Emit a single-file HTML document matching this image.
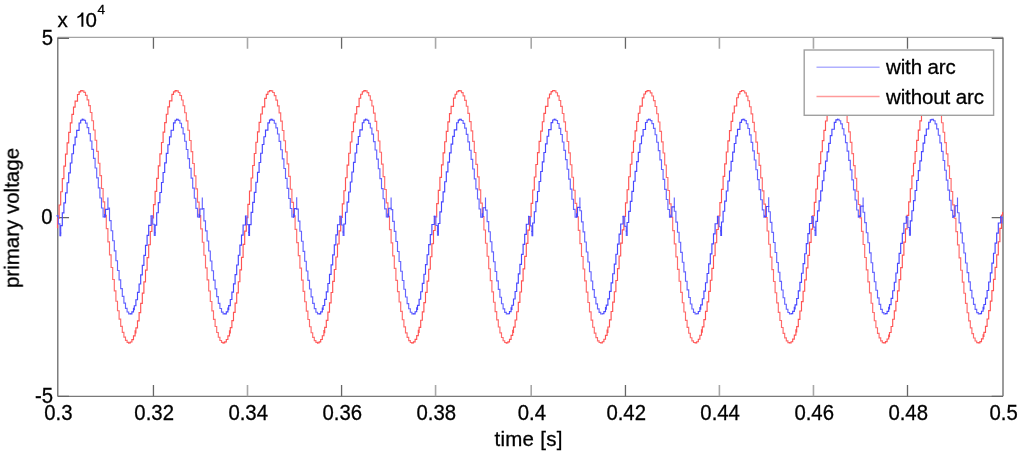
<!DOCTYPE html>
<html><head><meta charset="utf-8"><style>
html,body{margin:0;padding:0;background:#fff;width:1024px;height:458px;overflow:hidden}
svg{display:block}
text{font-family:"Liberation Sans",sans-serif;font-size:20.5px;fill:#000;stroke:#000;stroke-width:0.3px}
</style></head><body>
<svg width="1024" height="458" viewBox="0 0 1024 458">
<defs><filter id="b" x="-5%" y="-5%" width="110%" height="110%"><feGaussianBlur stdDeviation="0.4"/></filter></defs>
<rect width="1024" height="458" fill="#fff"/>
<g filter="url(#b)">
<g fill="none" stroke-width="1.3">
<path d="M57.75,37.4 H1003.0" stroke="#a4a4a4"/>
<path d="M57.75,396.3 H1003.0" stroke="#7a7a7a"/>
<path d="M57.75,37.4 V396.3" stroke="#7e7e7e" stroke-width="1.5"/>
<path d="M1003.0,37.4 V396.3" stroke="#8a8a8a" stroke-width="1.7"/>
<path d="M153.45,396.30 V385.00 M153.45,37.40 V48.70 M341.57,396.30 V385.00 M341.57,37.40 V48.70 M625.46,396.30 V385.00 M625.46,37.40 V48.70 M907.50,396.30 V385.00 M907.50,37.40 V48.70 M57.75,38.40 H69.05 M1003.00,38.40 H991.70 M57.75,217.60 H69.05 M1003.00,217.60 H991.70 M57.75,396.30 H69.05 M1003.00,396.30 H991.70" stroke="#666"/>
<path d="M247.50,396.30 V385.00 M247.50,37.40 V48.70 M435.57,396.30 V385.00 M435.57,37.40 V48.70 M531.20,396.30 V385.00 M531.20,37.40 V48.70 M719.40,396.30 V385.00 M719.40,37.40 V48.70 M813.46,396.30 V385.00 M813.46,37.40 V48.70" stroke="#a8a8a8" stroke-width="1.6"/>
</g>
<g fill="none" stroke-linecap="square">
<path d="M82.3,90.6 82.3,90.5 82.3,90.8 83.9,90.8 83.9,92.4 85.5,92.4 85.5,95.4 87.1,95.4 87.1,99.8 88.7,99.8 88.7,105.6 90.3,105.6 90.3,112.5 91.9,112.5 91.9,120.7 93.5,120.7 93.5,130.0 95.1,130.0 95.1,140.2 96.7,140.2 96.7,151.3 98.3,151.3 98.3,163.2 99.9,163.2 99.9,175.6 101.5,175.6 101.5,188.5 103.1,188.5 103.1,201.8 104.7,201.8 104.7,215.2 106.3,215.2 106.3,228.6 107.9,228.6 107.9,241.9 109.5,241.9 109.5,254.9 111.1,254.9 111.1,267.5 112.7,267.5 112.7,279.5 114.3,279.5 114.3,290.8 115.9,290.8 115.9,301.2 117.5,301.2 117.5,310.7 119.1,310.7 119.1,319.1 120.7,319.1 120.7,326.4 122.3,326.4 122.3,332.4 123.9,332.4 123.9,337.1 125.5,337.1 125.5,340.4 127.1,340.4 127.1,342.4 128.7,342.4 128.7,342.9 128.7,342.9 M176.7,90.6 176.7,90.5 176.7,90.8 178.3,90.8 178.3,92.5 179.9,92.5 179.9,95.5 181.5,95.5 181.5,100.0 183.1,100.0 183.1,105.7 184.7,105.7 184.7,112.7 186.3,112.7 186.3,120.9 187.9,120.9 187.9,130.2 189.5,130.2 189.5,140.5 191.1,140.5 191.1,151.6 192.7,151.6 192.7,163.5 194.3,163.5 194.3,175.9 195.9,175.9 195.9,188.9 197.5,188.9 197.5,202.1 199.1,202.1 199.1,215.5 200.7,215.5 200.7,228.9 202.3,228.9 202.3,242.2 203.9,242.2 203.9,255.2 205.5,255.2 205.5,267.8 207.1,267.8 207.1,279.8 208.7,279.8 208.7,291.0 210.3,291.0 210.3,301.5 211.9,301.5 211.9,310.9 213.5,310.9 213.5,319.3 215.1,319.3 215.1,326.5 216.7,326.5 216.7,332.5 218.3,332.5 218.3,337.2 219.9,337.2 219.9,340.5 221.5,340.5 221.5,342.4 223.1,342.4 223.1,342.9 223.1,342.9 M271.1,90.6 271.1,90.5 271.1,90.8 272.7,90.8 272.7,92.5 274.3,92.5 274.3,95.6 275.9,95.6 275.9,100.1 277.5,100.1 277.5,105.9 279.1,105.9 279.1,112.9 280.7,112.9 280.7,121.1 282.3,121.1 282.3,130.5 283.9,130.5 283.9,140.7 285.5,140.7 285.5,151.9 287.1,151.9 287.1,163.8 288.7,163.8 288.7,176.3 290.3,176.3 290.3,189.2 291.9,189.2 291.9,202.4 293.5,202.4 293.5,215.9 295.1,215.9 295.1,229.3 296.7,229.3 296.7,242.6 298.3,242.6 298.3,255.6 299.9,255.6 299.9,268.1 301.5,268.1 301.5,280.1 303.1,280.1 303.1,291.3 304.7,291.3 304.7,301.7 306.3,301.7 306.3,311.1 307.9,311.1 307.9,319.5 309.5,319.5 309.5,326.7 311.1,326.7 311.1,332.7 312.7,332.7 312.7,337.3 314.3,337.3 314.3,340.6 315.9,340.6 315.9,342.4 317.5,342.4 317.5,342.9 317.5,342.9 M365.5,90.6 365.5,90.5 365.5,90.9 367.1,90.9 367.1,92.6 368.7,92.6 368.7,95.7 370.3,95.7 370.3,100.2 371.9,100.2 371.9,106.0 373.5,106.0 373.5,113.1 375.1,113.1 375.1,121.4 376.7,121.4 376.7,130.7 378.3,130.7 378.3,141.0 379.9,141.0 379.9,152.2 381.5,152.2 381.5,164.1 383.1,164.1 383.1,176.6 384.7,176.6 384.7,189.5 386.3,189.5 386.3,202.8 387.9,202.8 387.9,216.2 389.5,216.2 389.5,229.6 391.1,229.6 391.1,242.9 392.7,242.9 392.7,255.9 394.3,255.9 394.3,268.4 395.9,268.4 395.9,280.4 397.5,280.4 397.5,291.6 399.1,291.6 399.1,302.0 400.7,302.0 400.7,311.4 402.3,311.4 402.3,319.7 403.9,319.7 403.9,326.9 405.5,326.9 405.5,332.8 407.1,332.8 407.1,337.4 408.7,337.4 408.7,340.6 410.3,340.6 410.3,342.5 411.9,342.5 411.9,342.9 411.9,342.9 M459.9,90.6 459.9,90.5 459.9,90.9 461.5,90.9 461.5,92.6 463.1,92.6 463.1,95.8 464.7,95.8 464.7,100.3 466.3,100.3 466.3,106.2 467.9,106.2 467.9,113.3 469.5,113.3 469.5,121.6 471.1,121.6 471.1,130.9 472.7,130.9 472.7,141.3 474.3,141.3 474.3,152.5 475.9,152.5 475.9,164.4 477.5,164.4 477.5,176.9 479.1,176.9 479.1,189.8 480.7,189.8 480.7,203.1 482.3,203.1 482.3,216.5 483.9,216.5 483.9,230.0 485.5,230.0 485.5,243.2 487.1,243.2 487.1,256.2 488.7,256.2 488.7,268.7 490.3,268.7 490.3,280.6 491.9,280.6 491.9,291.9 493.5,291.9 493.5,302.2 495.1,302.2 495.1,311.6 496.7,311.6 496.7,319.9 498.3,319.9 498.3,327.0 499.9,327.0 499.9,332.9 501.5,332.9 501.5,337.5 503.1,337.5 503.1,340.7 504.7,340.7 504.7,342.5 506.3,342.5 506.3,342.9 506.3,342.9 M554.3,90.5 554.3,90.5 554.3,90.9 555.9,90.9 555.9,92.7 557.5,92.7 557.5,95.9 559.1,95.9 559.1,100.5 560.7,100.5 560.7,106.4 562.3,106.4 562.3,113.5 563.9,113.5 563.9,121.8 565.5,121.8 565.5,131.2 567.1,131.2 567.1,141.5 568.7,141.5 568.7,152.8 570.3,152.8 570.3,164.7 571.9,164.7 571.9,177.2 573.5,177.2 573.5,190.2 575.1,190.2 575.1,203.4 576.7,203.4 576.7,216.9 578.3,216.9 578.3,230.3 579.9,230.3 579.9,243.6 581.5,243.6 581.5,256.5 583.1,256.5 583.1,269.0 584.7,269.0 584.7,280.9 586.3,280.9 586.3,292.1 587.9,292.1 587.9,302.5 589.5,302.5 589.5,311.8 591.1,311.8 591.1,320.1 592.7,320.1 592.7,327.2 594.3,327.2 594.3,333.1 595.9,333.1 595.9,337.6 597.5,337.6 597.5,340.8 599.1,340.8 599.1,342.5 600.7,342.5 600.7,342.9 600.7,342.8 M648.7,90.5 648.7,90.5 648.7,90.9 650.3,90.9 650.3,92.8 651.9,92.8 651.9,96.0 653.5,96.0 653.5,100.6 655.1,100.6 655.1,106.5 656.7,106.5 656.7,113.7 658.3,113.7 658.3,122.0 659.9,122.0 659.9,131.4 661.5,131.4 661.5,141.8 663.1,141.8 663.1,153.0 664.7,153.0 664.7,165.0 666.3,165.0 666.3,177.5 667.9,177.5 667.9,190.5 669.5,190.5 669.5,203.8 671.1,203.8 671.1,217.2 672.7,217.2 672.7,230.6 674.3,230.6 674.3,243.9 675.9,243.9 675.9,256.8 677.5,256.8 677.5,269.3 679.1,269.3 679.1,281.2 680.7,281.2 680.7,292.4 682.3,292.4 682.3,302.7 683.9,302.7 683.9,312.0 685.5,312.0 685.5,320.3 687.1,320.3 687.1,327.4 688.7,327.4 688.7,333.2 690.3,333.2 690.3,337.7 691.9,337.7 691.9,340.8 693.5,340.8 693.5,342.5 695.1,342.5 695.1,342.9 695.1,342.8 M743.1,90.5 743.1,90.5 743.1,91.0 744.7,91.0 744.7,92.8 746.3,92.8 746.3,96.1 747.9,96.1 747.9,100.7 749.5,100.7 749.5,106.7 751.1,106.7 751.1,113.9 752.7,113.9 752.7,122.3 754.3,122.3 754.3,131.7 755.9,131.7 755.9,142.1 757.5,142.1 757.5,153.3 759.1,153.3 759.1,165.3 760.7,165.3 760.7,177.8 762.3,177.8 762.3,190.8 763.9,190.8 763.9,204.1 765.5,204.1 765.5,217.5 767.1,217.5 767.1,231.0 768.7,231.0 768.7,244.2 770.3,244.2 770.3,257.1 771.9,257.1 771.9,269.6 773.5,269.6 773.5,281.5 775.1,281.5 775.1,292.7 776.7,292.7 776.7,302.9 778.3,302.9 778.3,312.3 779.9,312.3 779.9,320.5 781.5,320.5 781.5,327.5 783.1,327.5 783.1,333.3 784.7,333.3 784.7,337.8 786.3,337.8 786.3,340.9 787.9,340.9 787.9,342.6 789.5,342.6 789.5,342.9 789.5,342.8 M837.5,90.5 837.5,90.5 837.5,91.0 839.1,91.0 839.1,92.9 840.7,92.9 840.7,96.2 842.3,96.2 842.3,100.9 843.9,100.9 843.9,106.9 845.5,106.9 845.5,114.1 847.1,114.1 847.1,122.5 848.7,122.5 848.7,131.9 850.3,131.9 850.3,142.4 851.9,142.4 851.9,153.6 853.5,153.6 853.5,165.6 855.1,165.6 855.1,178.2 856.7,178.2 856.7,191.2 858.3,191.2 858.3,204.5 859.9,204.5 859.9,217.9 861.5,217.9 861.5,231.3 863.1,231.3 863.1,244.5 864.7,244.5 864.7,257.5 866.3,257.5 866.3,269.9 867.9,269.9 867.9,281.8 869.5,281.8 869.5,292.9 871.1,292.9 871.1,303.2 872.7,303.2 872.7,312.5 874.3,312.5 874.3,320.7 875.9,320.7 875.9,327.7 877.5,327.7 877.5,333.4 879.1,333.4 879.1,337.9 880.7,337.9 880.7,340.9 882.3,340.9 882.3,342.6 883.9,342.6 883.9,342.9 883.9,342.8 M931.9,90.5 931.9,90.5 931.9,91.0 933.5,91.0 933.5,93.0 935.1,93.0 935.1,96.3 936.7,96.3 936.7,101.0 938.3,101.0 938.3,107.0 939.9,107.0 939.9,114.3 941.5,114.3 941.5,122.7 943.1,122.7 943.1,132.2 944.7,132.2 944.7,142.6 946.3,142.6 946.3,153.9 947.9,153.9 947.9,165.9 949.5,165.9 949.5,178.5 951.1,178.5 951.1,191.5 952.7,191.5 952.7,204.8 954.3,204.8 954.3,218.2 955.9,218.2 955.9,231.6 957.5,231.6 957.5,244.9 959.1,244.9 959.1,257.8 960.7,257.8 960.7,270.2 962.3,270.2 962.3,282.1 963.9,282.1 963.9,293.2 965.5,293.2 965.5,303.4 967.1,303.4 967.1,312.7 968.7,312.7 968.7,320.9 970.3,320.9 970.3,327.8 971.9,327.8 971.9,333.6 973.5,333.6 973.5,338.0 975.1,338.0 975.1,341.0 976.7,341.0 976.7,342.6 978.3,342.6 978.3,342.9 978.3,342.8" stroke="#ff6a6a" stroke-width="1.15"/>
<path d="M57.5,227.6 57.5,218.4 59.1,218.4 59.1,205.0 60.7,205.0 60.7,191.7 62.3,191.7 62.3,178.6 63.9,178.6 63.9,166.1 65.5,166.1 65.5,154.1 67.1,154.1 67.1,142.8 68.7,142.8 68.7,132.3 70.3,132.3 70.3,122.8 71.9,122.8 71.9,114.4 73.5,114.4 73.5,107.1 75.1,107.1 75.1,101.1 77.5,101.1 77.5,94.5 79.1,94.5 79.1,91.8 80.7,91.8 80.7,90.6 82.3,90.6 M128.7,342.9 130.3,342.9 130.3,342.0 131.9,342.0 131.9,339.6 133.5,339.6 133.5,335.9 135.1,335.9 135.1,330.8 135.9,330.8 135.9,333.5 135.9,327.8 137.5,327.8 137.5,320.8 139.1,320.8 139.1,312.6 140.7,312.6 140.7,303.3 142.3,303.3 142.3,293.1 143.9,293.1 143.9,281.9 145.5,281.9 145.5,270.1 147.1,270.1 147.1,257.6 148.7,257.6 148.7,244.7 150.3,244.7 150.3,231.5 151.9,231.5 151.9,218.0 153.5,218.0 153.5,204.6 155.1,204.6 155.1,191.3 156.7,191.3 156.7,178.3 158.3,178.3 158.3,165.8 159.9,165.8 159.9,153.8 161.5,153.8 161.5,142.5 163.1,142.5 163.1,132.1 164.7,132.1 164.7,122.6 166.3,122.6 166.3,114.2 167.9,114.2 167.9,106.9 169.5,106.9 169.5,100.9 171.9,100.9 171.9,94.4 173.5,94.4 173.5,91.8 175.1,91.8 175.1,90.6 176.7,90.6 M223.1,342.9 224.7,342.9 224.7,341.9 226.3,341.9 226.3,339.5 227.9,339.5 227.9,335.8 229.5,335.8 229.5,330.7 230.3,330.7 230.3,333.4 230.3,327.6 231.9,327.6 231.9,320.6 233.5,320.6 233.5,312.4 235.1,312.4 235.1,303.1 236.7,303.1 236.7,292.8 238.3,292.8 238.3,281.7 239.9,281.7 239.9,269.8 241.5,269.8 241.5,257.3 243.1,257.3 243.1,244.4 244.7,244.4 244.7,231.1 246.3,231.1 246.3,217.7 247.9,217.7 247.9,204.3 249.5,204.3 249.5,191.0 251.1,191.0 251.1,178.0 252.7,178.0 252.7,165.5 254.3,165.5 254.3,153.5 255.9,153.5 255.9,142.2 257.5,142.2 257.5,131.8 259.1,131.8 259.1,122.4 260.7,122.4 260.7,114.0 262.3,114.0 262.3,106.8 264.7,106.8 264.7,98.3 266.3,98.3 266.3,94.3 267.9,94.3 267.9,91.7 269.5,91.7 269.5,90.6 271.1,90.6 M317.5,342.9 319.1,342.9 319.1,341.9 320.7,341.9 320.7,339.5 322.3,339.5 322.3,335.7 323.9,335.7 323.9,330.5 324.7,330.5 324.7,333.3 324.7,327.4 326.3,327.4 326.3,320.4 327.9,320.4 327.9,312.1 329.5,312.1 329.5,302.8 331.1,302.8 331.1,292.5 332.7,292.5 332.7,281.4 334.3,281.4 334.3,269.5 335.9,269.5 335.9,257.0 337.5,257.0 337.5,244.0 339.1,244.0 339.1,230.8 340.7,230.8 340.7,217.4 342.3,217.4 342.3,203.9 343.9,203.9 343.9,190.7 345.5,190.7 345.5,177.7 347.1,177.7 347.1,165.1 348.7,165.1 348.7,153.2 350.3,153.2 350.3,142.0 351.9,142.0 351.9,131.6 353.5,131.6 353.5,122.1 355.1,122.1 355.1,113.8 356.7,113.8 356.7,106.6 359.1,106.6 359.1,98.2 360.7,98.2 360.7,94.2 362.3,94.2 362.3,91.7 363.9,91.7 363.9,90.6 365.5,90.6 M411.9,342.9 413.5,342.9 413.5,341.8 415.1,341.8 415.1,339.4 416.7,339.4 416.7,335.6 418.3,335.6 418.3,330.4 419.1,330.4 419.1,333.1 419.1,327.3 420.7,327.3 420.7,320.2 422.3,320.2 422.3,311.9 423.9,311.9 423.9,302.6 425.5,302.6 425.5,292.3 427.1,292.3 427.1,281.1 428.7,281.1 428.7,269.2 430.3,269.2 430.3,256.7 431.9,256.7 431.9,243.7 433.5,243.7 433.5,230.5 435.1,230.5 435.1,217.0 436.7,217.0 436.7,203.6 438.3,203.6 438.3,190.3 439.9,190.3 439.9,177.4 441.5,177.4 441.5,164.8 443.1,164.8 443.1,152.9 444.7,152.9 444.7,141.7 446.3,141.7 446.3,131.3 447.9,131.3 447.9,121.9 449.5,121.9 449.5,113.6 451.1,113.6 451.1,106.4 453.5,106.4 453.5,98.1 455.1,98.1 455.1,94.2 456.7,94.2 456.7,91.7 458.3,91.7 458.3,90.6 459.9,90.6 M506.3,342.9 507.9,342.9 507.9,341.8 509.5,341.8 509.5,339.3 511.1,339.3 511.1,335.4 512.7,335.4 512.7,330.2 513.5,330.2 513.5,333.0 513.5,327.1 515.1,327.1 515.1,320.0 516.7,320.0 516.7,311.7 518.3,311.7 518.3,302.3 519.9,302.3 519.9,292.0 521.5,292.0 521.5,280.8 523.1,280.8 523.1,268.9 524.7,268.9 524.7,256.4 526.3,256.4 526.3,243.4 527.9,243.4 527.9,230.1 529.5,230.1 529.5,216.7 531.1,216.7 531.1,203.3 532.7,203.3 532.7,190.0 534.3,190.0 534.3,177.0 535.9,177.0 535.9,164.5 537.5,164.5 537.5,152.6 539.1,152.6 539.1,141.4 540.7,141.4 540.7,131.1 542.3,131.1 542.3,121.7 543.9,121.7 543.9,113.4 545.5,113.4 545.5,106.3 547.9,106.3 547.9,98.0 549.5,98.0 549.5,94.1 551.1,94.1 551.1,91.6 552.7,91.6 552.7,90.5 554.3,90.5 M600.7,342.8 602.3,342.8 602.3,341.7 603.9,341.7 603.9,339.2 605.5,339.2 605.5,335.3 607.1,335.3 607.1,330.1 607.9,330.1 607.9,332.9 607.9,327.0 609.5,327.0 609.5,319.8 611.1,319.8 611.1,311.5 612.7,311.5 612.7,302.1 614.3,302.1 614.3,291.7 615.9,291.7 615.9,280.5 617.5,280.5 617.5,268.6 619.1,268.6 619.1,256.0 620.7,256.0 620.7,243.1 622.3,243.1 622.3,229.8 623.9,229.8 623.9,216.4 625.5,216.4 625.5,202.9 627.1,202.9 627.1,189.7 628.7,189.7 628.7,176.7 630.3,176.7 630.3,164.2 631.9,164.2 631.9,152.3 633.5,152.3 633.5,141.1 635.1,141.1 635.1,130.8 636.7,130.8 636.7,121.5 638.3,121.5 638.3,113.2 639.9,113.2 639.9,106.1 642.3,106.1 642.3,97.8 643.9,97.8 643.9,94.0 645.5,94.0 645.5,91.6 647.1,91.6 647.1,90.5 648.7,90.5 M695.1,342.8 696.7,342.8 696.7,341.7 698.3,341.7 698.3,339.2 699.9,339.2 699.9,335.2 701.5,335.2 701.5,329.9 702.3,329.9 702.3,332.7 702.3,326.8 703.9,326.8 703.9,319.6 705.5,319.6 705.5,311.3 707.1,311.3 707.1,301.8 708.7,301.8 708.7,291.4 710.3,291.4 710.3,280.2 711.9,280.2 711.9,268.3 713.5,268.3 713.5,255.7 715.1,255.7 715.1,242.7 716.7,242.7 716.7,229.5 718.3,229.5 718.3,216.0 719.9,216.0 719.9,202.6 721.5,202.6 721.5,189.4 723.1,189.4 723.1,176.4 724.7,176.4 724.7,163.9 726.3,163.9 726.3,152.0 727.9,152.0 727.9,140.9 729.5,140.9 729.5,130.6 731.1,130.6 731.1,121.3 732.7,121.3 732.7,113.0 734.3,113.0 734.3,106.0 736.7,106.0 736.7,97.7 738.3,97.7 738.3,93.9 739.9,93.9 739.9,91.5 741.5,91.5 741.5,90.5 743.1,90.5 M789.5,342.8 791.1,342.8 791.1,341.7 792.7,341.7 792.7,339.1 794.3,339.1 794.3,335.1 795.9,335.1 795.9,329.8 796.7,329.8 796.7,332.6 796.7,326.6 798.3,326.6 798.3,319.4 799.9,319.4 799.9,311.0 801.5,311.0 801.5,301.6 803.1,301.6 803.1,291.2 804.7,291.2 804.7,279.9 806.3,279.9 806.3,267.9 807.9,267.9 807.9,255.4 809.5,255.4 809.5,242.4 811.1,242.4 811.1,229.1 812.7,229.1 812.7,215.7 814.3,215.7 814.3,202.3 815.9,202.3 815.9,189.0 817.5,189.0 817.5,176.1 819.1,176.1 819.1,163.6 820.7,163.6 820.7,151.7 822.3,151.7 822.3,140.6 823.9,140.6 823.9,130.3 825.5,130.3 825.5,121.0 827.1,121.0 827.1,112.8 828.7,112.8 828.7,105.8 831.1,105.8 831.1,97.6 832.7,97.6 832.7,93.9 834.3,93.9 834.3,91.5 835.9,91.5 835.9,90.5 837.5,90.5 M883.9,342.8 885.5,342.8 885.5,341.6 887.1,341.6 887.1,339.0 888.7,339.0 888.7,335.0 889.5,335.0 889.5,337.2 889.5,332.5 891.1,332.5 891.1,326.5 892.7,326.5 892.7,319.2 894.3,319.2 894.3,310.8 895.9,310.8 895.9,301.3 897.5,301.3 897.5,290.9 899.1,290.9 899.1,279.6 900.7,279.6 900.7,267.6 902.3,267.6 902.3,255.1 903.9,255.1 903.9,242.1 905.5,242.1 905.5,228.8 907.1,228.8 907.1,215.4 908.7,215.4 908.7,201.9 910.3,201.9 910.3,188.7 911.9,188.7 911.9,175.8 913.5,175.8 913.5,163.3 915.1,163.3 915.1,151.5 916.7,151.5 916.7,140.3 918.3,140.3 918.3,130.1 919.9,130.1 919.9,120.8 921.5,120.8 921.5,112.6 923.1,112.6 923.1,105.6 925.5,105.6 925.5,97.5 927.1,97.5 927.1,93.8 928.7,93.8 928.7,91.4 930.3,91.4 930.3,90.5 931.9,90.5 M978.3,342.8 979.9,342.8 979.9,341.6 981.5,341.6 981.5,338.9 983.1,338.9 983.1,334.9 983.9,334.9 983.9,337.1 983.9,332.3 985.5,332.3 985.5,326.3 987.1,326.3 987.1,319.0 988.7,319.0 988.7,310.6 990.3,310.6 990.3,301.1 991.9,301.1 991.9,290.6 993.5,290.6 993.5,279.3 995.1,279.3 995.1,267.3 996.7,267.3 996.7,254.8 998.3,254.8 998.3,241.7 999.9,241.7 999.9,228.4 1001.5,228.4 1001.5,215.0 1002.6,215.0 1002.6,212.5" stroke="#ff5252" stroke-width="1.15"/>
<path d="M57.2,215.7 58.3,215.7 58.3,223.8 59.9,223.8 59.9,236.2 59.9,233.0 60.7,233.0 M82.3,119.3 83.9,119.3 83.9,120.3 85.5,120.3 85.5,123.1 87.1,123.1 87.1,127.6 88.7,127.6 88.7,133.6 90.3,133.6 90.3,141.0 91.9,141.0 91.9,149.3 93.5,149.3 93.5,158.4 95.1,158.4 95.1,168.0 96.7,168.0 96.7,177.9 98.3,177.9 98.3,187.9 99.9,187.9 99.9,198.0 101.5,198.0 101.5,208.0 103.1,208.0 103.1,216.9 104.7,216.9 M107.9,209.4 107.9,197.4 107.9,208.1 109.5,208.1 109.5,220.6 111.1,220.6 111.1,230.7 112.7,230.7 112.7,240.7 114.3,240.7 114.3,250.8 115.9,250.8 115.9,260.7 117.5,260.7 117.5,270.5 119.1,270.5 119.1,279.8 120.7,279.8 120.7,288.6 122.3,288.6 122.3,296.4 123.9,296.4 123.9,303.1 125.5,303.1 125.5,308.4 127.1,308.4 127.1,312.0 128.7,312.0 128.7,313.9 130.3,313.9 M151.1,215.9 152.7,215.9 152.7,224.2 154.3,224.2 154.3,235.9 154.3,232.7 155.1,232.7 M176.7,119.3 178.3,119.3 178.3,120.3 179.9,120.3 179.9,123.2 181.5,123.2 181.5,127.7 183.1,127.7 183.1,133.8 184.7,133.8 184.7,141.2 186.3,141.2 186.3,149.5 187.9,149.5 187.9,158.6 189.5,158.6 189.5,168.2 191.1,168.2 191.1,178.1 192.7,178.1 192.7,188.1 194.3,188.1 194.3,198.2 195.9,198.2 195.9,208.3 197.5,208.3 197.5,217.0 199.1,217.0 M202.3,209.0 202.3,197.6 202.3,208.6 203.9,208.6 203.9,220.8 205.5,220.8 205.5,230.9 207.1,230.9 207.1,241.0 208.7,241.0 208.7,251.0 210.3,251.0 210.3,261.0 211.9,261.0 211.9,270.7 213.5,270.7 213.5,280.1 215.1,280.1 215.1,288.8 216.7,288.8 216.7,296.6 218.3,296.6 218.3,303.3 219.9,303.3 219.9,308.5 221.5,308.5 221.5,312.1 223.1,312.1 223.1,313.9 224.7,313.9 M245.5,216.0 247.1,216.0 247.1,224.6 248.7,224.6 248.7,236.0 248.7,232.4 M271.1,119.3 272.7,119.3 272.7,120.4 274.3,120.4 274.3,123.2 275.9,123.2 275.9,127.9 277.5,127.9 277.5,134.0 279.1,134.0 279.1,141.4 280.7,141.4 280.7,149.7 282.3,149.7 282.3,158.9 283.9,158.9 283.9,168.5 285.5,168.5 285.5,178.4 287.1,178.4 287.1,188.4 288.7,188.4 288.7,198.5 290.3,198.5 290.3,208.5 291.9,208.5 291.9,217.0 293.5,217.0 M296.7,208.6 296.7,197.2 296.7,209.1 298.3,209.1 298.3,221.1 299.9,221.1 299.9,231.2 301.5,231.2 301.5,241.2 303.1,241.2 303.1,251.3 304.7,251.3 304.7,261.2 306.3,261.2 306.3,271.0 307.9,271.0 307.9,280.3 309.5,280.3 309.5,289.0 311.1,289.0 311.1,296.8 312.7,296.8 312.7,303.4 314.3,303.4 314.3,308.6 315.9,308.6 315.9,312.2 317.5,312.2 317.5,313.9 319.1,313.9 M339.9,216.2 341.5,216.2 341.5,225.0 343.1,225.0 343.1,236.0 343.1,232.0 M365.5,119.3 367.1,119.3 367.1,120.4 368.7,120.4 368.7,123.3 370.3,123.3 370.3,128.0 371.9,128.0 371.9,134.1 373.5,134.1 373.5,141.6 375.1,141.6 375.1,150.0 376.7,150.0 376.7,159.1 378.3,159.1 378.3,168.7 379.9,168.7 379.9,178.6 381.5,178.6 381.5,188.6 383.1,188.6 383.1,198.7 384.7,198.7 384.7,208.8 386.3,208.8 386.3,217.0 387.9,217.0 M391.1,208.2 391.1,197.5 391.1,209.6 392.7,209.6 392.7,221.4 394.3,221.4 394.3,231.4 395.9,231.4 395.9,241.5 397.5,241.5 397.5,251.5 399.1,251.5 399.1,261.5 400.7,261.5 400.7,271.2 402.3,271.2 402.3,280.5 403.9,280.5 403.9,289.2 405.5,289.2 405.5,297.0 407.1,297.0 407.1,303.6 408.7,303.6 408.7,308.7 410.3,308.7 410.3,312.2 411.9,312.2 411.9,313.9 413.5,313.9 M434.3,216.3 435.9,216.3 435.9,225.5 437.5,225.5 437.5,235.8 437.5,231.7 M459.9,119.3 461.5,119.3 461.5,120.5 463.1,120.5 463.1,123.4 464.7,123.4 464.7,128.1 466.3,128.1 466.3,134.3 467.9,134.3 467.9,141.8 469.5,141.8 469.5,150.2 471.1,150.2 471.1,159.3 472.7,159.3 472.7,169.0 474.3,169.0 474.3,178.9 475.9,178.9 475.9,188.9 477.5,188.9 477.5,199.0 479.1,199.0 479.1,209.0 480.7,209.0 480.7,217.1 482.3,217.1 M485.5,207.7 485.5,197.4 485.5,210.1 487.1,210.1 487.1,221.6 488.7,221.6 488.7,231.7 490.3,231.7 490.3,241.7 491.9,241.7 491.9,251.8 493.5,251.8 493.5,261.7 495.1,261.7 495.1,271.5 496.7,271.5 496.7,280.8 498.3,280.8 498.3,289.4 499.9,289.4 499.9,297.2 501.5,297.2 501.5,303.7 503.1,303.7 503.1,308.8 504.7,308.8 504.7,312.3 506.3,312.3 506.3,314.0 507.9,314.0 M528.7,216.5 530.3,216.5 530.3,225.9 531.9,225.9 531.9,236.2 531.9,231.4 M554.3,119.3 555.9,119.3 555.9,120.5 557.5,120.5 557.5,123.5 559.1,123.5 559.1,128.3 560.7,128.3 560.7,134.5 562.3,134.5 562.3,142.0 563.9,142.0 563.9,150.4 565.5,150.4 565.5,159.6 567.1,159.6 567.1,169.2 568.7,169.2 568.7,179.1 570.3,179.1 570.3,189.1 571.9,189.1 571.9,199.2 573.5,199.2 573.5,209.3 575.1,209.3 575.1,217.1 576.7,217.1 M579.9,207.3 579.9,197.4 579.9,210.7 581.5,210.7 581.5,221.9 583.1,221.9 583.1,231.9 584.7,231.9 584.7,242.0 586.3,242.0 586.3,252.0 587.9,252.0 587.9,262.0 589.5,262.0 589.5,271.7 591.1,271.7 591.1,281.0 592.7,281.0 592.7,289.6 594.3,289.6 594.3,297.3 595.9,297.3 595.9,303.9 597.5,303.9 597.5,308.9 599.1,308.9 599.1,312.4 600.7,312.4 600.7,314.0 602.3,314.0 M623.1,216.6 624.7,216.6 624.7,226.3 626.3,226.3 626.3,235.9 626.3,231.1 M648.7,119.3 650.3,119.3 650.3,120.6 651.9,120.6 651.9,123.6 653.5,123.6 653.5,128.4 655.1,128.4 655.1,134.7 656.7,134.7 656.7,142.2 658.3,142.2 658.3,150.6 659.9,150.6 659.9,159.8 661.5,159.8 661.5,169.5 663.1,169.5 663.1,179.4 664.7,179.4 664.7,189.4 666.3,189.4 666.3,199.5 667.9,199.5 667.9,209.5 669.5,209.5 669.5,217.2 670.3,217.2 670.3,214.6 670.3,217.7 670.3,216.7 M674.3,206.9 674.3,197.6 674.3,211.2 675.9,211.2 675.9,222.1 677.5,222.1 677.5,232.2 679.1,232.2 679.1,242.2 680.7,242.2 680.7,252.3 682.3,252.3 682.3,262.2 683.9,262.2 683.9,271.9 685.5,271.9 685.5,281.2 687.1,281.2 687.1,289.8 688.7,289.8 688.7,297.5 690.3,297.5 690.3,304.0 691.9,304.0 691.9,309.0 693.5,309.0 693.5,312.4 695.1,312.4 695.1,314.0 696.7,314.0 M717.5,216.8 719.1,216.8 719.1,226.7 720.7,226.7 720.7,236.0 720.7,230.8 M743.1,119.3 744.7,119.3 744.7,120.6 746.3,120.6 746.3,123.7 747.9,123.7 747.9,128.5 749.5,128.5 749.5,134.8 751.1,134.8 751.1,142.4 752.7,142.4 752.7,150.9 754.3,150.9 754.3,160.0 755.9,160.0 755.9,169.7 757.5,169.7 757.5,179.6 759.1,179.6 759.1,189.6 760.7,189.6 760.7,199.7 762.3,199.7 762.3,209.8 763.9,209.8 763.9,217.2 764.7,217.2 764.7,214.8 764.7,217.7 764.7,216.5 M768.7,206.5 768.7,197.2 768.7,211.7 770.3,211.7 770.3,222.4 771.9,222.4 771.9,232.4 773.5,232.4 773.5,242.5 775.1,242.5 775.1,252.5 776.7,252.5 776.7,262.5 778.3,262.5 778.3,272.2 779.9,272.2 779.9,281.4 781.5,281.4 781.5,290.0 783.1,290.0 783.1,297.7 784.7,297.7 784.7,304.2 786.3,304.2 786.3,309.2 787.9,309.2 787.9,312.5 789.5,312.5 789.5,314.0 791.1,314.0 M811.9,216.9 813.5,216.9 813.5,227.1 815.1,227.1 815.1,236.0 815.1,230.4 M837.5,119.3 839.1,119.3 839.1,120.7 840.7,120.7 840.7,123.8 842.3,123.8 842.3,128.7 843.9,128.7 843.9,135.0 845.5,135.0 845.5,142.6 847.1,142.6 847.1,151.1 848.7,151.1 848.7,160.3 850.3,160.3 850.3,169.9 851.9,169.9 851.9,179.9 853.5,179.9 853.5,189.9 855.1,189.9 855.1,200.0 856.7,200.0 856.7,210.0 858.3,210.0 858.3,217.2 859.1,217.2 859.1,215.1 859.1,217.6 859.1,216.4 M863.1,206.1 863.1,197.5 863.1,212.2 864.7,212.2 864.7,222.6 866.3,222.6 866.3,232.7 867.9,232.7 867.9,242.7 869.5,242.7 869.5,252.8 871.1,252.8 871.1,262.7 872.7,262.7 872.7,272.4 874.3,272.4 874.3,281.7 875.9,281.7 875.9,290.2 877.5,290.2 877.5,297.9 879.1,297.9 879.1,304.3 880.7,304.3 880.7,309.3 882.3,309.3 882.3,312.6 883.9,312.6 883.9,314.0 885.5,314.0 M906.3,217.1 907.9,217.1 907.9,227.5 909.5,227.5 909.5,235.8 909.5,230.1 M931.9,119.4 933.5,119.4 933.5,120.7 935.1,120.7 935.1,123.9 936.7,123.9 936.7,128.8 938.3,128.8 938.3,135.2 939.9,135.2 939.9,142.8 941.5,142.8 941.5,151.3 943.1,151.3 943.1,160.5 944.7,160.5 944.7,170.2 946.3,170.2 946.3,180.1 947.9,180.1 947.9,190.1 949.5,190.1 949.5,200.2 951.1,200.2 951.1,210.3 952.7,210.3 952.7,217.3 953.5,217.3 953.5,215.3 953.5,217.7 953.5,216.2 M957.5,205.7 957.5,197.4 957.5,212.7 959.1,212.7 959.1,222.9 960.7,222.9 960.7,232.9 962.3,232.9 962.3,243.0 963.9,243.0 963.9,253.0 965.5,253.0 965.5,263.0 967.1,263.0 967.1,272.6 968.7,272.6 968.7,281.9 970.3,281.9 970.3,290.4 971.9,290.4 971.9,298.0 973.5,298.0 973.5,304.4 975.1,304.4 975.1,309.4 976.7,309.4 976.7,312.6 978.3,312.6 978.3,314.0 979.9,314.0 M1000.7,217.2 1002.3,217.2 1002.3,222.8" stroke="#6464ff" stroke-width="1.15"/>
<path d="M57.2,216.0 57.2,215.7 M60.7,233.0 60.7,236.2 60.7,225.6 62.3,225.6 62.3,212.9 63.9,212.9 63.9,202.9 65.5,202.9 65.5,192.8 67.1,192.8 67.1,182.7 68.7,182.7 68.7,172.8 70.3,172.8 70.3,163.0 71.9,163.0 71.9,153.7 73.5,153.7 73.5,144.9 75.1,144.9 75.1,137.1 76.7,137.1 76.7,130.4 79.1,130.4 79.1,123.0 80.7,123.0 80.7,120.2 82.3,120.2 82.3,119.3 M104.7,216.9 104.7,217.6 104.7,214.5 105.5,214.5 105.5,217.6 105.5,209.4 107.9,209.4 M130.3,313.9 130.3,314.1 130.3,313.8 131.9,313.8 131.9,311.9 133.5,311.9 133.5,308.2 134.3,308.2 134.3,310.3 134.3,305.7 135.9,305.7 135.9,299.7 137.5,299.7 137.5,292.3 139.1,292.3 139.1,284.0 140.7,284.0 140.7,274.9 142.3,274.9 142.3,265.3 143.9,265.3 143.9,255.4 145.5,255.4 145.5,245.4 147.1,245.4 147.1,235.3 148.7,235.3 148.7,225.3 151.1,225.3 151.1,215.8 151.1,215.9 M155.1,232.7 155.1,235.9 155.1,225.1 156.7,225.1 156.7,212.7 158.3,212.7 158.3,202.6 159.9,202.6 159.9,192.5 161.5,192.5 161.5,182.5 163.1,182.5 163.1,172.5 164.7,172.5 164.7,162.8 166.3,162.8 166.3,153.4 167.9,153.4 167.9,144.7 169.5,144.7 169.5,136.9 171.1,136.9 171.1,130.2 173.5,130.2 173.5,122.9 175.1,122.9 175.1,120.2 176.7,120.2 176.7,119.3 M199.1,217.0 199.1,217.7 199.1,214.4 199.9,214.4 199.9,217.5 199.9,209.0 202.3,209.0 M224.7,313.9 224.7,314.1 224.7,313.8 226.3,313.8 226.3,311.9 227.9,311.9 227.9,308.1 228.7,308.1 228.7,310.2 228.7,305.6 230.3,305.6 230.3,299.5 231.9,299.5 231.9,292.1 233.5,292.1 233.5,283.8 235.1,283.8 235.1,274.6 236.7,274.6 236.7,265.0 238.3,265.0 238.3,255.2 239.9,255.2 239.9,245.1 241.5,245.1 241.5,235.1 243.1,235.1 243.1,225.0 245.5,225.0 245.5,215.7 245.5,216.0 M248.7,232.4 249.5,232.4 249.5,236.0 249.5,224.6 251.1,224.6 251.1,212.4 252.7,212.4 252.7,202.4 254.3,202.4 254.3,192.3 255.9,192.3 255.9,182.2 257.5,182.2 257.5,172.3 259.1,172.3 259.1,162.5 260.7,162.5 260.7,153.2 262.3,153.2 262.3,144.5 263.9,144.5 263.9,136.7 265.5,136.7 265.5,130.1 267.9,130.1 267.9,122.8 269.5,122.8 269.5,120.1 271.1,120.1 271.1,119.3 271.1,119.3 M293.5,217.0 293.5,217.7 293.5,214.2 294.3,214.2 294.3,217.3 294.3,208.6 296.7,208.6 M319.1,313.9 319.1,314.1 319.1,313.8 320.7,313.8 320.7,311.8 322.3,311.8 322.3,308.0 323.1,308.0 323.1,310.1 323.1,305.5 324.7,305.5 324.7,299.3 326.3,299.3 326.3,291.9 327.9,291.9 327.9,283.5 329.5,283.5 329.5,274.4 331.1,274.4 331.1,264.8 332.7,264.8 332.7,254.9 334.3,254.9 334.3,244.9 335.9,244.9 335.9,234.8 337.5,234.8 337.5,224.7 339.9,224.7 339.9,215.8 339.9,216.2 M343.1,232.0 343.9,232.0 343.9,236.0 343.9,224.0 345.5,224.0 345.5,212.2 347.1,212.2 347.1,202.1 348.7,202.1 348.7,192.0 350.3,192.0 350.3,182.0 351.9,182.0 351.9,172.0 353.5,172.0 353.5,162.3 355.1,162.3 355.1,153.0 356.7,153.0 356.7,144.3 358.3,144.3 358.3,136.5 359.9,136.5 359.9,129.9 362.3,129.9 362.3,122.7 363.9,122.7 363.9,120.1 365.5,120.1 365.5,119.3 365.5,119.3 M387.9,217.0 387.9,217.6 387.9,214.1 388.7,214.1 388.7,217.2 388.7,208.2 391.1,208.2 M413.5,313.9 413.5,314.1 413.5,313.8 415.1,313.8 415.1,311.7 416.7,311.7 416.7,307.9 417.5,307.9 417.5,310.0 417.5,305.3 419.1,305.3 419.1,299.2 420.7,299.2 420.7,291.7 422.3,291.7 422.3,283.3 423.9,283.3 423.9,274.2 425.5,274.2 425.5,264.6 427.1,264.6 427.1,254.7 428.7,254.7 428.7,244.6 430.3,244.6 430.3,234.6 431.9,234.6 431.9,224.5 434.3,224.5 434.3,215.7 434.3,216.3 M437.5,231.7 438.3,231.7 438.3,235.8 438.3,223.5 439.9,223.5 439.9,211.9 441.5,211.9 441.5,201.9 443.1,201.9 443.1,191.8 444.7,191.8 444.7,181.7 446.3,181.7 446.3,171.8 447.9,171.8 447.9,162.1 449.5,162.1 449.5,152.8 451.1,152.8 451.1,144.1 452.7,144.1 452.7,136.3 454.3,136.3 454.3,129.8 456.7,129.8 456.7,122.7 458.3,122.7 458.3,120.1 459.9,120.1 459.9,119.3 459.9,119.3 M482.3,217.1 482.3,217.7 482.3,213.9 483.1,213.9 483.1,217.0 483.1,207.7 485.5,207.7 M507.9,314.0 507.9,314.1 507.9,313.7 509.5,313.7 509.5,311.6 511.1,311.6 511.1,307.8 511.9,307.8 511.9,309.9 511.9,305.2 513.5,305.2 513.5,299.0 515.1,299.0 515.1,291.5 516.7,291.5 516.7,283.1 518.3,283.1 518.3,273.9 519.9,273.9 519.9,264.3 521.5,264.3 521.5,254.4 523.1,254.4 523.1,244.4 524.7,244.4 524.7,234.3 526.3,234.3 526.3,224.2 528.7,224.2 528.7,215.7 528.7,216.5 M531.9,231.4 532.7,231.4 532.7,236.2 532.7,223.0 534.3,223.0 534.3,211.7 535.9,211.7 535.9,201.6 537.5,201.6 537.5,191.5 539.1,191.5 539.1,181.5 540.7,181.5 540.7,171.5 542.3,171.5 542.3,161.8 543.9,161.8 543.9,152.5 545.5,152.5 545.5,143.9 547.1,143.9 547.1,136.2 548.7,136.2 548.7,129.6 551.1,129.6 551.1,122.6 552.7,122.6 552.7,120.0 554.3,120.0 554.3,119.3 554.3,119.3 M576.7,217.1 576.7,217.6 576.7,213.8 577.5,213.8 577.5,216.9 577.5,207.3 579.9,207.3 M602.3,314.0 602.3,314.1 602.3,313.7 603.9,313.7 603.9,311.6 605.5,311.6 605.5,307.6 606.3,307.6 606.3,309.8 606.3,305.1 607.9,305.1 607.9,298.8 609.5,298.8 609.5,291.3 611.1,291.3 611.1,282.9 612.7,282.9 612.7,273.7 614.3,273.7 614.3,264.1 615.9,264.1 615.9,254.2 617.5,254.2 617.5,244.1 619.1,244.1 619.1,234.1 620.7,234.1 620.7,224.0 623.1,224.0 623.1,215.8 623.1,216.6 M626.3,231.1 627.1,231.1 627.1,235.9 627.1,222.5 628.7,222.5 628.7,211.4 630.3,211.4 630.3,201.4 631.9,201.4 631.9,191.3 633.5,191.3 633.5,181.2 635.1,181.2 635.1,171.3 636.7,171.3 636.7,161.6 638.3,161.6 638.3,152.3 639.9,152.3 639.9,143.7 641.5,143.7 641.5,136.0 643.1,136.0 643.1,129.5 645.5,129.5 645.5,122.5 647.1,122.5 647.1,120.0 648.7,120.0 648.7,119.3 648.7,119.3 M670.3,216.7 671.9,216.7 671.9,206.9 674.3,206.9 M696.7,314.0 696.7,314.1 696.7,313.7 698.3,313.7 698.3,311.5 699.9,311.5 699.9,307.5 700.7,307.5 700.7,309.7 700.7,304.9 702.3,304.9 702.3,298.7 703.9,298.7 703.9,291.1 705.5,291.1 705.5,282.7 707.1,282.7 707.1,273.5 708.7,273.5 708.7,263.8 710.3,263.8 710.3,253.9 711.9,253.9 711.9,243.9 713.5,243.9 713.5,233.8 715.1,233.8 715.1,223.7 717.5,223.7 717.5,215.7 717.5,216.8 M720.7,230.8 721.5,230.8 721.5,236.0 721.5,222.0 723.1,222.0 723.1,211.2 724.7,211.2 724.7,201.1 726.3,201.1 726.3,191.0 727.9,191.0 727.9,181.0 729.5,181.0 729.5,171.0 731.1,171.0 731.1,161.4 732.7,161.4 732.7,152.1 734.3,152.1 734.3,143.5 735.9,143.5 735.9,135.8 737.5,135.8 737.5,129.3 739.9,129.3 739.9,122.4 741.5,122.4 741.5,119.9 743.1,119.9 743.1,119.3 743.1,119.3 M764.7,216.5 766.3,216.5 766.3,206.5 768.7,206.5 M791.1,314.0 791.1,314.1 791.1,313.6 792.7,313.6 792.7,311.4 794.3,311.4 794.3,307.4 795.1,307.4 795.1,309.6 795.1,304.8 796.7,304.8 796.7,298.5 798.3,298.5 798.3,290.9 799.9,290.9 799.9,282.4 801.5,282.4 801.5,273.2 803.1,273.2 803.1,263.6 804.7,263.6 804.7,253.7 806.3,253.7 806.3,243.6 807.9,243.6 807.9,233.6 809.5,233.6 809.5,223.5 811.9,223.5 811.9,215.8 811.9,216.9 M815.1,230.4 815.9,230.4 815.9,236.0 815.9,221.4 817.5,221.4 817.5,210.9 819.1,210.9 819.1,200.8 820.7,200.8 820.7,190.8 822.3,190.8 822.3,180.7 823.9,180.7 823.9,170.8 825.5,170.8 825.5,161.1 827.1,161.1 827.1,151.9 828.7,151.9 828.7,143.3 830.3,143.3 830.3,135.6 831.9,135.6 831.9,129.2 834.3,129.2 834.3,122.3 835.9,122.3 835.9,119.9 837.5,119.9 837.5,119.3 837.5,119.3 M859.1,216.4 860.7,216.4 860.7,206.1 863.1,206.1 M885.5,314.0 885.5,314.1 885.5,313.6 887.1,313.6 887.1,311.3 888.7,311.3 888.7,307.3 889.5,307.3 889.5,309.5 889.5,304.6 891.1,304.6 891.1,298.3 892.7,298.3 892.7,290.7 894.3,290.7 894.3,282.2 895.9,282.2 895.9,273.0 897.5,273.0 897.5,263.3 899.1,263.3 899.1,253.4 900.7,253.4 900.7,243.4 902.3,243.4 902.3,233.3 903.9,233.3 903.9,223.2 906.3,223.2 906.3,215.7 906.3,217.1 M909.5,230.1 910.3,230.1 910.3,235.8 910.3,220.9 911.9,220.9 911.9,210.7 913.5,210.7 913.5,200.6 915.1,200.6 915.1,190.5 916.7,190.5 916.7,180.5 918.3,180.5 918.3,170.6 919.9,170.6 919.9,160.9 921.5,160.9 921.5,151.6 923.1,151.6 923.1,143.1 924.7,143.1 924.7,135.4 926.3,135.4 926.3,129.0 928.7,129.0 928.7,122.2 930.3,122.2 930.3,119.9 931.9,119.9 931.9,119.3 931.9,119.4 M953.5,216.2 955.1,216.2 955.1,205.7 957.5,205.7 M979.9,314.0 979.9,314.1 979.9,313.6 981.5,313.6 981.5,311.2 983.1,311.2 983.1,307.2 983.9,307.2 983.9,309.4 983.9,304.5 985.5,304.5 985.5,298.1 987.1,298.1 987.1,290.5 988.7,290.5 988.7,282.0 990.3,282.0 990.3,272.8 991.9,272.8 991.9,263.1 993.5,263.1 993.5,253.2 995.1,253.2 995.1,243.1 996.7,243.1 996.7,233.1 998.3,233.1 998.3,223.0 1000.7,223.0 1000.7,215.7 1000.7,217.2" stroke="#4646ff" stroke-width="1.15"/>
</g>
<rect x="804.2" y="50" width="189.4" height="65.3" fill="#fff" stroke="#a0a0a0" stroke-width="1.4"/>
<path d="M816.5,67.2 H879.6" stroke="#b0b0ff" stroke-width="1.5"/>
<path d="M816.5,96.5 H879.6" stroke="#ff9a9a" stroke-width="1.5"/>
<text x="886" y="74" letter-spacing="-0.12">with arc</text>
<text x="886" y="103.6" letter-spacing="-0.12">without arc</text>
<text transform="translate(53.00,44.50) scale(0.955,1)" style="font-size:21.3px" text-anchor="end">5</text>
<text transform="translate(52.60,223.60) scale(0.955,1)" style="font-size:21.3px" text-anchor="end">0</text>
<text transform="translate(53.00,402.50) scale(0.955,1)" style="font-size:21.3px" text-anchor="end">-5</text>
<text transform="translate(58.45,420.00) scale(0.955,1)" style="font-size:21.3px" text-anchor="middle">0.3</text>
<text transform="translate(154.15,420.00) scale(0.955,1)" style="font-size:21.3px" text-anchor="middle">0.32</text>
<text transform="translate(248.20,420.00) scale(0.955,1)" style="font-size:21.3px" text-anchor="middle">0.34</text>
<text transform="translate(342.27,420.00) scale(0.955,1)" style="font-size:21.3px" text-anchor="middle">0.36</text>
<text transform="translate(436.27,420.00) scale(0.955,1)" style="font-size:21.3px" text-anchor="middle">0.38</text>
<text transform="translate(531.90,420.00) scale(0.955,1)" style="font-size:21.3px" text-anchor="middle">0.4</text>
<text transform="translate(626.16,420.00) scale(0.955,1)" style="font-size:21.3px" text-anchor="middle">0.42</text>
<text transform="translate(720.10,420.00) scale(0.955,1)" style="font-size:21.3px" text-anchor="middle">0.44</text>
<text transform="translate(814.16,420.00) scale(0.955,1)" style="font-size:21.3px" text-anchor="middle">0.46</text>
<text transform="translate(908.20,420.00) scale(0.955,1)" style="font-size:21.3px" text-anchor="middle">0.48</text>
<text transform="translate(1003.70,420.00) scale(0.955,1)" style="font-size:21.3px" text-anchor="middle">0.5</text>
<text x="57.5" y="27.3">x</text>
<path d="M83.4,26.8 V12.4 H81.7 C81.2,13.9 79.7,15.4 77.4,16.4 V18.3 C79.0,17.7 80.5,16.9 81.4,16.0 V26.8 Z" fill="#000"/>
<text x="85.4" y="27.3">0</text>
<text x="97.5" y="14.2" style="font-size:13.5px">4</text>
<text x="528.6" y="446" text-anchor="middle" letter-spacing="0.25">time [s]</text>
<text transform="translate(18.8,218) rotate(-90)" text-anchor="middle">primary voltage</text>
</g>
</svg>
</body></html>
